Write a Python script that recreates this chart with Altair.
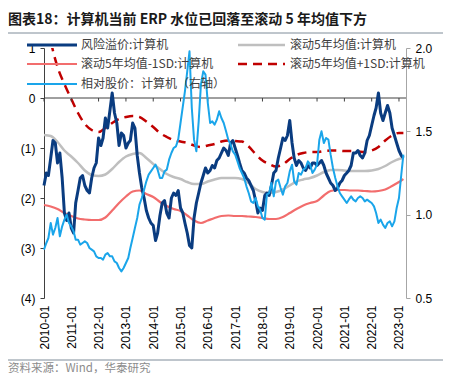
import altair as alt
import pandas as pd

# ---------------- data ----------------
erp = [
    -1.75, -1.50, -1.55, -1.20, -0.85, -0.90, -1.30, -1.10, -1.60, -2.30, -2.45, -2.30,  # 2010
    -2.60, -2.70, -2.10, -1.85, -1.60, -1.55, -1.75, -1.85, -1.90, -1.60, -1.40, -1.30,  # 2011
    -0.80, -0.95, -0.80, -0.40, -0.60, -0.25, 0.10, -0.30, -0.50, -0.95, -0.70, -0.75,   # 2012
    -1.00, -0.90, -0.85, -0.50, -0.60, -1.15, -1.50, -1.80, -2.00, -2.25, -2.40, -2.50,  # 2013
    -2.55, -2.85, -2.70, -2.35, -2.10, -2.05, -2.30, -2.40, -2.00, -1.90, -1.95, -1.85,  # 2014
    -2.20, -2.30, -2.50, -2.70, -2.95, -3.00, -2.40, -2.10, -1.90, -1.70, -1.55, -1.40,  # 2015
    -1.50, -1.45, -1.35, -1.40, -1.25, -1.20, -1.10, -1.00, -1.05, -1.15, -0.90, -0.85,  # 2016
    -1.00, -1.15, -1.30, -1.45, -1.50, -1.60, -1.65, -1.75, -1.85, -2.05, -2.30, -2.20,  # 2017
    -2.25, -1.95, -1.90, -1.95, -1.75, -1.50, -1.45, -1.20, -1.00, -0.80, -0.85, -0.75,  # 2018
    -0.45, -0.90, -1.20, -1.35, -1.25, -1.30, -1.40, -1.45, -1.35, -1.40, -1.30, -1.30,  # 2019
    -1.35, -1.30, -1.25, -1.35, -1.50, -1.60, -1.70, -1.75, -1.85, -1.80, -1.70, -1.65,  # 2020
    -1.55, -1.50, -1.45, -1.35, -1.10, -1.10, -1.05, -1.15, -1.20, -1.10, -0.85, -0.75,  # 2021
    -0.55, -0.35, -0.20, 0.10, -0.30, -0.45, -0.30, -0.15, -0.30, -0.60, -0.75, -0.90,   # 2022
    -1.05, -1.15, -1.20,                                                                 # 2023
]

rel_price = [
    0.79, 0.83, 0.86, 0.95, 0.88, 0.92, 0.98, 0.87, 0.93, 0.97, 1.00, 0.95,  # 2010
    0.93, 0.90, 0.85, 0.85, 0.82, 0.83, 0.84, 0.83, 0.80, 0.79, 0.78, 0.75,  # 2011
    0.74, 0.74, 0.73, 0.76, 0.77, 0.75, 0.75, 0.72, 0.71, 0.68, 0.66, 0.68,  # 2012
    0.71, 0.74, 0.80, 0.86, 0.92, 0.98, 1.06, 1.10, 1.15, 1.20, 1.24, 1.26,  # 2013
    1.28, 1.30, 1.27, 1.22, 1.22, 1.26, 1.27, 1.33, 1.37, 1.40, 1.41, 1.45,  # 2014
    1.55, 1.65, 1.74, 1.86, 1.98, 1.64, 1.45, 1.38, 1.56, 1.78, 1.86, 1.84,  # 2015
    1.67, 1.55, 1.56, 1.54, 1.57, 1.62, 1.58, 1.55, 1.50, 1.45, 1.42, 1.38,  # 2016
    1.36, 1.32, 1.28, 1.25, 1.22, 1.17, 1.13, 1.08, 1.07, 1.10, 1.05, 1.03,  # 2017
    0.98, 0.97, 1.12, 1.13, 1.19, 1.11, 1.20, 1.21, 1.16, 1.12, 1.17, 1.19,  # 2018
    1.26, 1.30, 1.20, 1.18, 1.25, 1.24, 1.27, 1.28, 1.32, 1.30, 1.25, 1.27,  # 2019
    1.30, 1.45, 1.50, 1.43, 1.46, 1.45, 1.36, 1.28, 1.22, 1.17, 1.13, 1.11,  # 2020
    1.09, 1.07, 1.09, 1.11, 1.09, 1.08, 1.10, 1.11, 1.10, 1.08, 1.09, 1.08,  # 2021
    1.07, 1.05, 1.01, 0.95, 0.97, 0.94, 0.92, 0.95, 0.96, 0.93, 0.96, 1.04,  # 2022
    1.10, 1.24, 1.36,                                                        # 2023
]

roll_mean = [
    -0.74, -0.76, -0.88, -1.05, -1.17, -1.30, -1.45, -1.54, -1.56, -1.53, -1.42, -1.28,
    -1.17, -1.12, -1.10, -1.20, -1.32, -1.42, -1.52, -1.58, -1.62, -1.68, -1.72, -1.72,
    -1.67, -1.63, -1.60, -1.60, -1.60, -1.62, -1.70, -1.82, -1.88, -1.90, -1.88, -1.83,
    -1.75, -1.67, -1.63, -1.60, -1.55, -1.48, -1.44, -1.44, -1.45, -1.46, -1.46, -1.46,
    -1.45, -1.42, -1.36, -1.28, -1.22, -1.20,
]
roll_lo = [
    -2.14, -2.17, -2.22, -2.30, -2.36, -2.41, -2.43, -2.44, -2.44, -2.39, -2.25, -2.10,
    -1.97, -1.87, -1.85, -1.92, -1.98, -2.08, -2.16, -2.22, -2.26, -2.35, -2.45, -2.50,
    -2.45, -2.40, -2.36, -2.35, -2.36, -2.36, -2.37, -2.38, -2.40, -2.42, -2.42, -2.38,
    -2.30, -2.22, -2.15, -2.10, -2.06, -1.95, -1.86, -1.84, -1.84, -1.85, -1.85, -1.86,
    -1.87, -1.86, -1.83, -1.76, -1.68, -1.62,
]
roll_hi = [
    2.00, 1.15, 0.62, 0.28, -0.02, -0.30, -0.52, -0.64, -0.68, -0.60, -0.50, -0.42,
    -0.38, -0.36, -0.38, -0.47, -0.58, -0.70, -0.78, -0.84, -0.87, -0.90, -0.95, -0.98,
    -0.95, -0.92, -0.87, -0.85, -0.86, -0.87, -0.97, -1.12, -1.25, -1.32, -1.37, -1.33,
    -1.22, -1.14, -1.10, -1.08, -1.08, -1.06, -1.05, -1.05, -1.06, -1.06, -1.07, -1.08,
    -1.05, -0.98, -0.85, -0.75, -0.70, -0.70,
]

year_labels = list(range(2010, 2024))
left_ticks = [-4, -3, -2, -1, 0, 1]
right_ticks = [0.5, 1.0, 1.5, 2.0]

title_text = "图表18：计算机当前 ERP 水位已回落至滚动 5 年均值下方"
source_text = "资料来源：Wind，华泰研究"
names = ["风险溢价:计算机", "滚动5年均值:计算机", "滚动5年均值-1SD:计算机",
         "滚动5年均值+1SD:计算机", "相对股价：计算机（右轴）"]

# ---------------- frames ----------------
dates_m = pd.date_range("2010-01-01", periods=len(erp), freq="MS")
dates_q = list(pd.date_range("2010-01-01", "2023-01-01", freq="QS")) + [pd.Timestamp("2023-03-01")]
df_erp = pd.DataFrame({"date": dates_m, "v": erp})
df_rel = pd.DataFrame({"date": dates_m, "v": rel_price})
df_roll = pd.DataFrame({"date": dates_q, "mean": roll_mean, "lo": roll_lo, "hi": roll_hi})
df_years = pd.DataFrame({"date": pd.to_datetime([f"{y}-01-01" for y in year_labels]), "y0": 0.0, "y1": -0.07})

# ---------------- styles ----------------
NAVY = "#0A3C80"
SKY = "#1AA5EA"
GREY = "#BFBFBF"
SALMON = "#F26D6D"
DARKRED = "#C00000"
LAT = "Liberation Sans"
CJK = "Noto Sans CJK SC"

x_scale = alt.Scale(domain=[alt.DateTime(year=2010, month=1, date=1),
                            alt.DateTime(year=2023, month=4, date=5)], nice=False)
x_axis = alt.Axis(values=[alt.DateTime(year=y, month=1, date=1) for y in year_labels],
                  format="%Y-%m", labelAngle=-90, tickSize=0, domain=False, grid=False,
                  labelFontSize=12, labelFont=LAT, labelColor="#000000", labelPadding=7,
                  title=None)
X = alt.X("date:T", scale=x_scale, axis=x_axis)

left_scale = alt.Scale(domain=[-4, 1], nice=False, zero=False)
left_axis = alt.Axis(values=left_ticks, orient="left", grid=False, title=None,
                     labelExpr="datum.value < 0 ? '(' + abs(datum.value) + ')' : '' + datum.value",
                     tickSize=4, labelPadding=5, domainColor="#404040", tickColor="#404040",
                     labelFontSize=12, labelFont=LAT, labelColor="#000000")
right_scale = alt.Scale(domain=[0.5, 2.0], nice=False, zero=False)
right_axis = alt.Axis(values=right_ticks, orient="right", grid=False, title=None, format=".1f",
                      tickSize=4, labelPadding=5, domainColor="#A6A6A6", tickColor="#A6A6A6",
                      labelFontSize=12, labelFont=LAT, labelColor="#000000")


def yl(field):
    return alt.Y(field, scale=left_scale, axis=left_axis)


base_roll = alt.Chart(df_roll)
gray_line = base_roll.mark_line(color=GREY, strokeWidth=2.5, interpolate="monotone").encode(x=X, y=yl("mean:Q"))
lo_line = base_roll.mark_line(color=SALMON, strokeWidth=2.2, interpolate="monotone").encode(x=X, y=yl("lo:Q"))
hi_line = base_roll.mark_line(color=DARKRED, strokeWidth=2.5, strokeDash=[9, 6],
                              interpolate="monotone", clip=True).encode(x=X, y=yl("hi:Q"))
zero_line = alt.Chart(pd.DataFrame({"y0": [0.0]})).mark_rule(color="#404040", strokeWidth=1).encode(y=yl("y0:Q"))
year_ticks = alt.Chart(df_years).mark_rule(color="#404040", strokeWidth=1).encode(
    x=X, y=yl("y0:Q"), y2="y1:Q")
erp_line = alt.Chart(df_erp).mark_line(color=NAVY, strokeWidth=3, strokeJoin="round").encode(x=X, y=yl("v:Q"))

left = alt.layer(gray_line, lo_line, hi_line, zero_line, year_ticks, erp_line)

right = alt.Chart(df_rel).mark_line(color=SKY, strokeWidth=2, strokeJoin="round").encode(
    x=X, y=alt.Y("v:Q", scale=right_scale, axis=right_axis))

# ---------------- legend, title, source ----------------
legend_layers = []
legend_items = [
    (names[0], NAVY, 3, None, -17, 33, 37, -3),
    (names[2], SALMON, 2.2, None, -17, 33, 37, 16),
    (names[4], SKY, 2, None, -17, 33, 37, 36),
    (names[1], GREY, 2.5, None, 194, 241, 246, -3),
    (names[3], DARKRED, 2.5, [9, 6], 194, 241, 246, 16),
]
for label, col, w, dash, x1, x2, xt, yy in legend_items:
    kw = dict(color=col, strokeWidth=w)
    if dash:
        kw["strokeDash"] = dash
    legend_layers.append(alt.Chart().mark_rule(**kw).encode(
        x=alt.value(x1), x2=alt.value(x2), y=alt.value(yy)))
    legend_layers.append(alt.Chart().mark_text(
        text=label, align="left", baseline="middle", font=CJK, fontSize=12, color="#404040"
    ).encode(x=alt.value(xt), y=alt.value(yy)))

title_mark = alt.Chart().mark_text(text=title_text, align="left", baseline="middle", font=CJK,
                                   fontSize=14, fontWeight="bold", color="#1a1a1a").encode(
    x=alt.value(-36), y=alt.value(-28))
top_rule = alt.Chart().mark_rule(color="#7f8c99", strokeWidth=1).encode(
    x=alt.value(-36), x2=alt.value(399), y=alt.value(-15))
bottom_rule = alt.Chart().mark_rule(color="#7f8c99", strokeWidth=1).encode(
    x=alt.value(-36), x2=alt.value(399), y=alt.value(312))
source_mark = alt.Chart().mark_text(text=source_text, align="left", baseline="middle", font=CJK,
                                    fontSize=11.5, color="#8c8c8c").encode(
    x=alt.value(-36), y=alt.value(321))

chart = alt.layer(left, right, title_mark, top_rule, bottom_rule, source_mark, *legend_layers).resolve_scale(
    y="independent"
).properties(
    width=362, height=250,
    autosize=alt.AutoSizeParams(type="none"),
    padding={"left": 36, "top": 40, "right": 37, "bottom": 78},
    background="white",
).configure_view(stroke=None)

chart.save("out.html", embed_options={"renderer": "svg", "actions": False})
